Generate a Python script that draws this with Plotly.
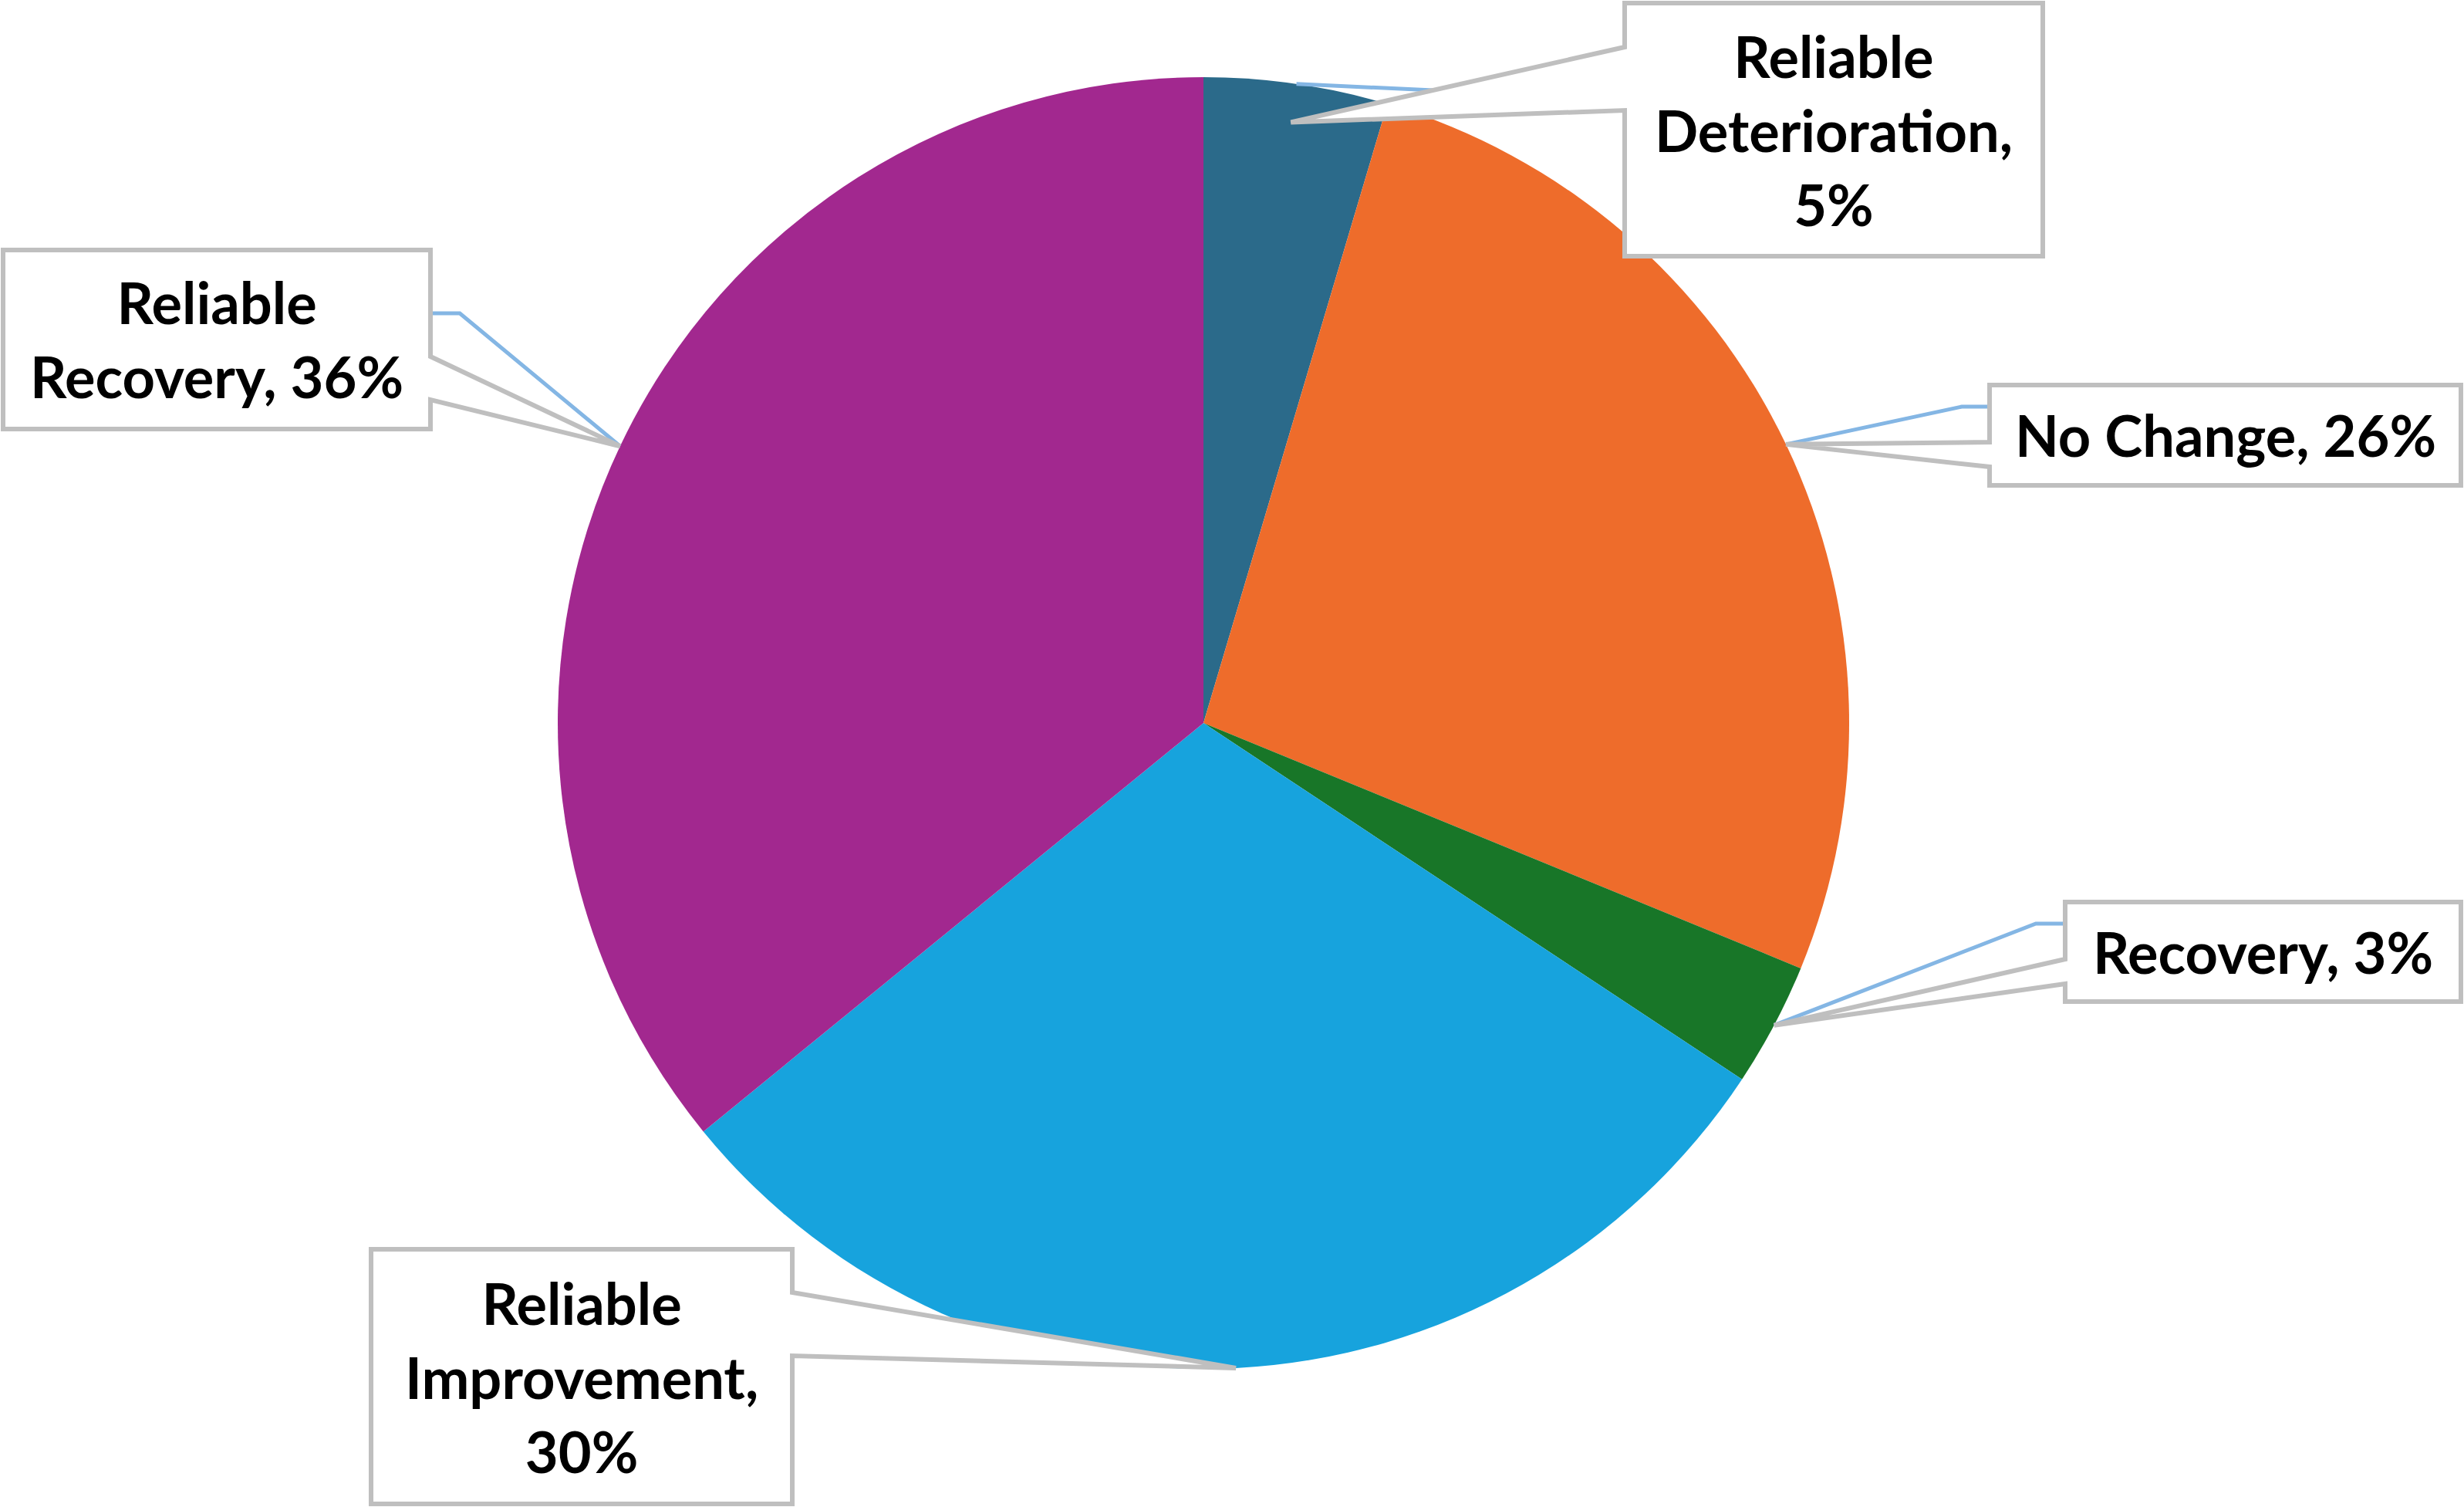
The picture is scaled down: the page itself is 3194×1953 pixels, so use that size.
import math
import plotly.graph_objects as go

# ---- data ----
categories = ["Reliable Deterioration", "No Change", "Recovery",
              "Reliable Improvement", "Reliable Recovery"]
values = [4.6, 26.6, 3.1, 29.8, 35.9]
label_texts = ["Reliable<br>Deterioration,<br>5%", "No Change, 26%", "Recovery, 3%",
               "Reliable<br>Improvement,<br>30%", "Reliable<br>Recovery, 36%"]
colors = ["#2b6a8a", "#ee6c2b", "#187628", "#17a3dd", "#a2288f"]

# ---- layout geometry (pixels) ----
W, H = 3194, 1953
CX, CY, R = 1560, 937, 837

def px(x):
    return x / W

def py(y):
    return 1 - y / H

# callout boxes: (x0, y0, x1, y1, side, wedge_ya, wedge_yb, tip_radius_factor, blue elbow)
boxes = [
    (2106, 4, 2648, 332, "left", 61, 143, 0.94, (2090, 128)),
    (2579, 499, 3190, 629, "left", 573, 605, 1.0, (2543, 527)),
    (2677, 1169, 3190, 1298, "left", 1243, 1275, 1.0, (2639, 1197)),
    (481, 1619, 1027, 1949, "right", 1675, 1757, 1.0, None),
    (4, 324, 558, 556, "right", 462, 518, 1.0, (596, 406)),
]

fig = go.Figure()
fig.add_trace(go.Pie(
    labels=categories, values=values, sort=False, direction="clockwise",
    rotation=0, textinfo="none", hoverinfo="label+percent",
    marker=dict(colors=colors, line=dict(width=0)),
    domain=dict(x=[px(CX - R), px(CX + R)], y=[py(CY + R), py(CY - R)]),
    showlegend=False,
))

total = sum(values)
shapes = []
annotations = []
cum = 0
for i, v in enumerate(values):
    mid = 2 * math.pi * (cum + v / 2) / total
    cum += v
    x0, y0, x1, y1, side, ya, yb, f, elbow = boxes[i]
    ex, ey = CX + R * math.sin(mid), CY - R * math.cos(mid)
    tx, ty = CX + f * R * math.sin(mid), CY - f * R * math.cos(mid)
    # blue leader line
    if elbow is not None:
        bx = x0 if side == "left" else x1
        pts = [(ex, ey), elbow, (bx, elbow[1])]
        path = "M " + " L ".join(f"{px(a):.5f},{py(b):.5f}" for a, b in pts)
        shapes.append(dict(type="path", path=path, xref="paper", yref="paper",
                           line=dict(color="#84b6e4", width=5), layer="above"))
    # callout outline
    if side == "right":
        pts = [(x0, y0), (x1, y0), (x1, ya), (tx, ty), (x1, yb), (x1, y1), (x0, y1)]
    else:
        pts = [(x0, y0), (x1, y0), (x1, y1), (x0, y1), (x0, yb), (tx, ty), (x0, ya)]
    path = "M " + " L ".join(f"{px(a):.5f},{py(b):.5f}" for a, b in pts) + " Z"
    shapes.append(dict(type="path", path=path, xref="paper", yref="paper",
                       fillcolor="white", line=dict(color="#bfbfbf", width=6),
                       layer="above"))
    annotations.append(dict(
        x=px((x0 + x1) / 2), y=py((y0 + y1) / 2), xref="paper", yref="paper",
        text=label_texts[i], showarrow=False, xanchor="center", yanchor="middle",
        align="center",
        font=dict(family="Lato", size=74, color="black", weight=700),
    ))

fig.update_layout(
    width=W, height=H, margin=dict(l=0, r=0, t=0, b=0),
    paper_bgcolor="white", plot_bgcolor="white",
    shapes=shapes, annotations=annotations,
)

fig.write_html("out.html")
